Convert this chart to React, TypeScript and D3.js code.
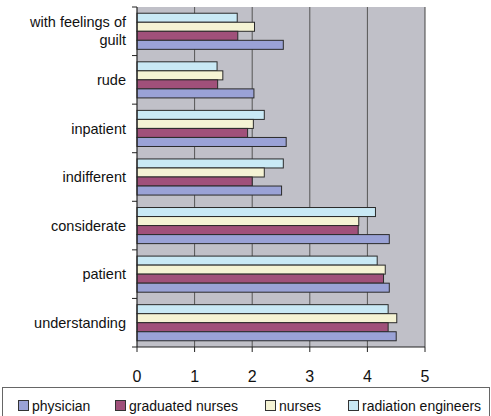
import { scaleLinear, scaleBand } from "d3";

const categories = [
  "with feelings of guilt",
  "rude",
  "inpatient",
  "indifferent",
  "considerate",
  "patient",
  "understanding",
];

// series drawn top to bottom inside each group
const seriesNames = ["radiation engineers", "nurses", "graduated nurses", "physician"];
const legendOrder = ["physician", "graduated nurses", "nurses", "radiation engineers"];

const physician = [2.54, 2.03, 2.59, 2.51, 4.38, 4.38, 4.5];
const graduatedNurses = [1.75, 1.4, 1.92, 2.0, 3.84, 4.28, 4.36];
const nurses = [2.04, 1.49, 2.02, 2.21, 3.85, 4.31, 4.51];
const radiationEngineers = [1.74, 1.39, 2.21, 2.54, 4.14, 4.17, 4.36];

const xTicks = [0, 1, 2, 3, 4, 5];

const valuesBySeries: Record<string, number[]> = {
  physician: physician,
  "graduated nurses": graduatedNurses,
  nurses: nurses,
  "radiation engineers": radiationEngineers,
};

const colors: Record<string, string> = {
  physician: "#9aa2d6",
  "graduated nurses": "#a0507a",
  nurses: "#f5f3d4",
  "radiation engineers": "#c9e9f5",
};

export default function App() {
  const width = 491;
  const height = 416;
  const margin = { top: 7, left: 137, right: 66, bottom: 69 };
  const plotH = height - margin.top - margin.bottom;

  const x = scaleLinear().domain([0, 5]).range([0, 288]);
  const y = scaleBand<string>().domain(categories).range([0, plotH]).padding(0);
  const inner = scaleBand<string>()
    .domain(seriesNames)
    .range([0, y.bandwidth()])
    .paddingInner(0)
    .paddingOuter(0.69);

  const legendX = [18, 115, 265, 348];

  return (
    <svg
      width={width}
      height={height}
      style={{ position: "absolute", left: 0, top: 0, background: "#fff" }}
      fontFamily="'Liberation Sans', Arial, sans-serif"
    >
      <g transform={`translate(${margin.left},${margin.top})`}>
        <rect x={0} y={0} width={x(5)} height={plotH} fill="#c0c0c8" />
        {/* grid */}
        {xTicks.slice(1, -1).map((t) => (
          <line key={t} x1={x(t)} x2={x(t)} y1={0} y2={plotH} stroke="#555" strokeWidth={1} />
        ))}
        <line x1={x(5)} x2={x(5)} y1={0} y2={plotH} stroke="#444" strokeWidth={1} />

        {/* bars */}
        {categories.map((c, ci) => (
          <g key={c} transform={`translate(0,${y(c)})`}>
            {seriesNames.map((s) => (
              <rect
                key={s}
                x={0}
                y={inner(s)}
                width={x(valuesBySeries[s][ci])}
                height={inner.bandwidth()}
                fill={colors[s]}
                stroke="#2a2a2a"
                strokeWidth={1}
              />
            ))}
          </g>
        ))}

        {/* axes */}
        <line x1={0} x2={0} y1={0} y2={plotH} stroke="#222" strokeWidth={1.2} />
        <line x1={0} x2={x(5)} y1={plotH} y2={plotH} stroke="#222" strokeWidth={1.2} />
        {categories.map((c) => (
          <line key={c} x1={-5} x2={0} y1={y(c)} y2={y(c)} stroke="#222" />
        ))}
        <line x1={-5} x2={0} y1={plotH} y2={plotH} stroke="#222" />
        {xTicks.map((t) => (
          <g key={t} transform={`translate(${x(t)},${plotH})`}>
            <line y1={0} y2={5} stroke="#222" />
            <text y={35} textAnchor="middle" fontSize={16} fill="#111">
              {t}
            </text>
          </g>
        ))}

        {/* category labels */}
        {categories.map((c) => {
          const cy = (y(c) ?? 0) + y.bandwidth() / 2;
          if (c === "with feelings of guilt") {
            return (
              <text key={c} x={-11} y={cy} textAnchor="end" fontSize={14.5} fill="#111">
                <tspan x={-11} dy={-4}>with feelings of</tspan>
                <tspan x={-11} dy={18}>guilt</tspan>
              </text>
            );
          }
          return (
            <text key={c} x={-11} y={cy} dy="0.35em" textAnchor="end" fontSize={14.5} fill="#111">
              {c}
            </text>
          );
        })}
      </g>

      {/* legend */}
      <rect x={2.5} y={387.5} width={487} height={40} fill="#fff" stroke="#666" strokeWidth={1} />
      {legendOrder.map((s, i) => (
        <g key={s} transform={`translate(${legendX[i]},400)`}>
          <rect x={0.5} y={0.5} width={10} height={10} fill={colors[s]} stroke="#333" />
          <text x={14} y={10.5} fontSize={14} fill="#111">
            {s}
          </text>
        </g>
      ))}
    </svg>
  );
}
